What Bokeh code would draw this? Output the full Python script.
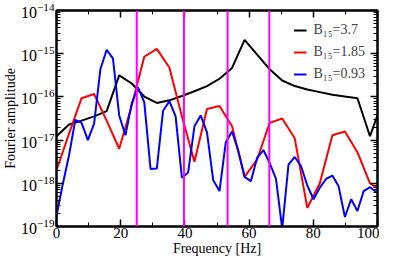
from bokeh.plotting import figure
from bokeh.models import (Span, Legend, LegendItem, LinearAxis, LogAxis, SingleIntervalTicker,
                          LogTicker, Range1d, CustomJSTickFormatter)
from bokeh.embed import file_html
from bokeh.resources import INLINE

# ---------------- data ----------------
freq_coarse = [0.0, 3.91, 7.81, 11.72, 15.63, 19.53, 23.44, 27.34, 31.25, 35.16, 39.06,
               42.97, 46.88, 50.78, 54.69, 58.59, 62.5, 66.41, 70.31, 74.22, 78.13, 82.03,
               85.94, 89.84, 93.75, 97.66, 101.56]

amp_b37 = [1.23e-17, 2.29e-17, 2.82e-17, 3.55e-17, 4.68e-17, 3.16e-16, 2.04e-16, 1.02e-16,
           7.24e-17, 8.32e-17, 1.05e-16, 1.35e-16, 1.78e-16, 2.63e-16, 4.68e-16, 2.09e-15,
           9.55e-16, 4.37e-16, 2.40e-16, 1.78e-16, 1.48e-16, 1.29e-16, 1.12e-16, 1.02e-16,
           9.33e-17, 1.23e-17, 7.94e-17]

amp_b185 = [2.0e-18, 1.41e-17, 9.33e-17, 1.17e-16, 2.82e-17, 6.31e-18, 6.31e-17, 8.51e-16,
            1.29e-15, 4.79e-16, 3.55e-17, 3.16e-18, 5.25e-17, 6.17e-17, 2.09e-17, 1.41e-18,
            3.55e-18, 2.51e-17, 3.16e-17, 1.10e-17, 2.69e-19, 1.0e-18, 1.29e-17, 1.58e-17,
            5.25e-18, 1.0e-18, 6.31e-19]

freq_fine = [0.0, 1.95, 3.91, 5.86, 7.81, 9.77, 11.72, 13.67, 15.63, 17.58, 19.53, 21.48,
             23.44, 25.39, 27.34, 29.3, 31.25, 33.2, 35.16, 37.11, 39.06, 41.02, 42.97,
             44.92, 46.88, 48.83, 50.78, 52.73, 54.69, 56.64, 58.59, 60.55, 62.5, 64.45,
             66.41, 68.36, 70.31, 72.27, 74.22, 76.17, 78.13, 80.08, 82.03, 83.98, 85.94,
             87.89, 89.84, 91.8, 93.75, 95.7, 97.66, 99.61]

amp_b093 = [1.78e-19, 9.55e-19, 4.47e-18, 2.95e-17, 2.51e-17, 1.0e-17, 2.40e-17, 4.37e-16,
            1.23e-15, 7.76e-16, 3.72e-17, 1.29e-17, 7.08e-17, 1.66e-16, 7.59e-17, 2.14e-18,
            2.19e-18, 4.79e-17, 7.94e-17, 3.55e-17, 1.35e-18, 1.78e-18, 2.09e-17, 3.72e-17,
            1.51e-17, 1.17e-18, 6.61e-19, 8.91e-18, 1.58e-17, 5.62e-18, 1.41e-18, 1.12e-18,
            3.89e-18, 5.89e-18, 2.95e-18, 1.29e-18, 8.91e-20, 2.69e-18, 4.07e-18, 2.51e-18,
            8.91e-19, 4.27e-19, 7.94e-19, 1.26e-18, 1.51e-18, 8.51e-19, 1.66e-19, 4.27e-19,
            2.29e-19, 6.61e-19, 8.13e-19, 6.31e-19]

marker_freqs = [25.0, 39.7, 53.3, 66.3]

labels = ["B\u2081\u2085=3.7", "B\u2081\u2085=1.85", "B\u2081\u2085=0.93"]
colors = ["black", "#ff0000", "#0000ff"]

FONT = "Liberation Serif"

# ---------------- figure ----------------
p = figure(width=379, height=258, y_axis_type="log",
           x_range=Range1d(0, 100), y_range=Range1d(1e-19, 1e-14),
           output_backend="svg", toolbar_location=None,
           min_border_left=30, min_border_right=2, min_border_top=10, min_border_bottom=0)
p.grid.visible = False
p.outline_line_color = "black"
p.outline_line_width = 2
p.background_fill_color = "white"
p.border_fill_color = "white"

r1 = p.line(freq_coarse, amp_b37, line_color=colors[0], line_width=2)
r2 = p.line(freq_coarse, amp_b185, line_color=colors[1], line_width=2)
r3 = p.line(freq_fine, amp_b093, line_color=colors[2], line_width=2)

for f in marker_freqs:
    p.add_layout(Span(location=f, dimension="height", line_color="#ff00ff", line_width=2))

xt = SingleIntervalTicker(interval=20, num_minor_ticks=2)
yt = LogTicker(mantissas=[1], desired_num_ticks=6, num_minor_ticks=10)


def style_axis(ax):
    ax.axis_line_width = 2
    ax.axis_line_color = "black"
    ax.major_tick_in = 7
    ax.major_tick_out = 0
    ax.minor_tick_in = 4
    ax.minor_tick_out = 0
    ax.major_tick_line_width = 1.5
    ax.minor_tick_line_width = 1
    ax.major_label_text_font = FONT
    ax.major_label_text_font_size = "15px"
    ax.major_label_text_color = "black"
    ax.axis_label_text_font = FONT
    ax.axis_label_text_font_style = "normal"
    ax.axis_label_text_font_size = "14px"
    ax.axis_label_text_color = "black"


p.xaxis.ticker = xt
p.yaxis.ticker = yt
style_axis(p.xaxis[0])
style_axis(p.yaxis[0])
p.yaxis.major_label_text_font_size = "16px"
p.xaxis.axis_label = "Frequency [Hz]"
p.yaxis.axis_label = "Fourier amplitude"
p.xaxis.major_label_standoff = 1
p.xaxis.axis_label_standoff = 0
p.yaxis.major_label_standoff = 2
p.yaxis.axis_label_standoff = 0

top = LinearAxis(ticker=xt, formatter=CustomJSTickFormatter(code="return ''"))
style_axis(top)
top.major_label_standoff = 0
p.add_layout(top, "above")
right = LogAxis(ticker=yt, formatter=CustomJSTickFormatter(code="return ''"))
style_axis(right)
right.major_label_standoff = 0
p.add_layout(right, "right")

legend = Legend(items=[LegendItem(label=labels[0], renderers=[r1]),
                       LegendItem(label=labels[1], renderers=[r2]),
                       LegendItem(label=labels[2], renderers=[r3])],
                location="top_right", border_line_color=None, background_fill_alpha=0,
                label_text_font=FONT, label_text_font_size="14px",
                glyph_width=13, glyph_height=16, label_height=16, label_standoff=7,
                padding=2, margin=12, spacing=6)
p.add_layout(legend)

open("out.html", "w").write(file_html(p, INLINE))
